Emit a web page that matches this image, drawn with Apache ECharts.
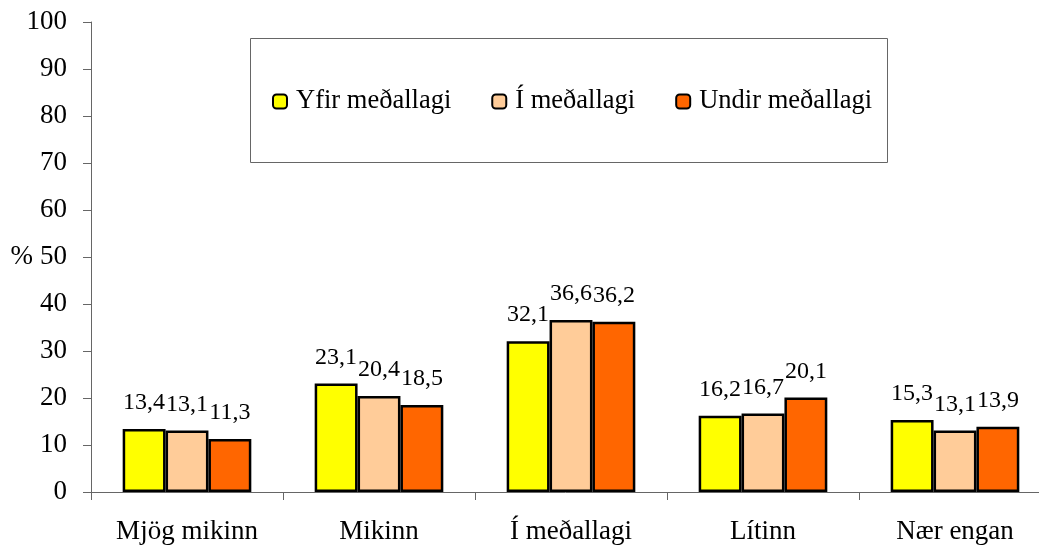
<!DOCTYPE html>
<html><head><meta charset="utf-8">
<script src="https://cdn.jsdelivr.net/npm/echarts@6/dist/echarts.min.js"></script>
<style>html,body{margin:0;padding:0;background:#fff}#c{width:1039px;height:546px}</style>
</head><body><div id="c"></div>
<script>
const categories = ['Mjög mikinn', 'Mikinn', 'Í meðallagi', 'Lítinn', 'Nær engan'];
const seriesNames = ['Yfir meðallagi', 'Í meðallagi', 'Undir meðallagi'];
const yfir = [13.4, 23.1, 32.1, 16.2, 15.3];
const imedal = [13.1, 20.4, 36.6, 16.7, 13.1];
const undir = [11.3, 18.5, 36.2, 20.1, 13.9];
const colors = ['#FFFF00', '#FFCC99', '#FF6600'];
const font = 'Liberation Serif, Times New Roman, serif';
const chart = echarts.init(document.getElementById('c'));
const mk = (name, data, i) => ({
  name, type: 'bar', data,
  barGap: '0%', barCategoryGap: '33%',
  itemStyle: { color: colors[i], borderColor: '#000', borderWidth: 2.5 },
  label: { show: true, position: 'top', distance: 14, fontFamily: font, fontSize: 24, color: '#000',
    formatter: p => String(p.value).replace('.', ',') }
});
chart.setOption({
  animation: false,
  backgroundColor: '#fff',
  grid: { left: 91, width: 960, top: 22, bottom: 54, containLabel: false, outerBoundsMode: 'none' },
  graphic: [{
    type: 'rect', z: 0,
    shape: { x: 250.5, y: 38.5, width: 637, height: 124 },
    style: { fill: '#fff', stroke: '#666', lineWidth: 1 }
  }],
  legend: {
    left: 272, top: 88, padding: 0,
    itemWidth: 14, itemHeight: 14, itemGap: 40,
    itemStyle: { borderColor: '#000', borderWidth: 2 },
    textStyle: { fontFamily: font, fontSize: 26.5, color: '#000', padding: [0, 0, 0, 4] },
    data: seriesNames
  },
  xAxis: {
    type: 'category', data: categories,
    axisLine: { lineStyle: { color: '#666', width: 1 } },
    axisTick: { show: true, length: 8, lineStyle: { color: '#666' } },
    axisLabel: { fontFamily: font, fontSize: 27, color: '#000', margin: 26 }
  },
  yAxis: {
    type: 'value', min: 0, max: 100, interval: 10,
    name: '%', nameLocation: 'middle', nameRotate: 0, nameGap: 58, nameMoveOverlap: false,
    nameTextStyle: { fontFamily: font, fontSize: 27, color: '#000', padding: [0, 0, 6, 0] },
    splitLine: { show: false },
    axisLine: { show: true, lineStyle: { color: '#666', width: 1 } },
    axisTick: { show: true, length: 8, lineStyle: { color: '#666' } },
    axisLabel: { fontFamily: font, fontSize: 27, color: '#000', margin: 24 }
  },
  series: [mk(seriesNames[0], yfir, 0), mk(seriesNames[1], imedal, 1), mk(seriesNames[2], undir, 2)]
});
</script></body></html>
